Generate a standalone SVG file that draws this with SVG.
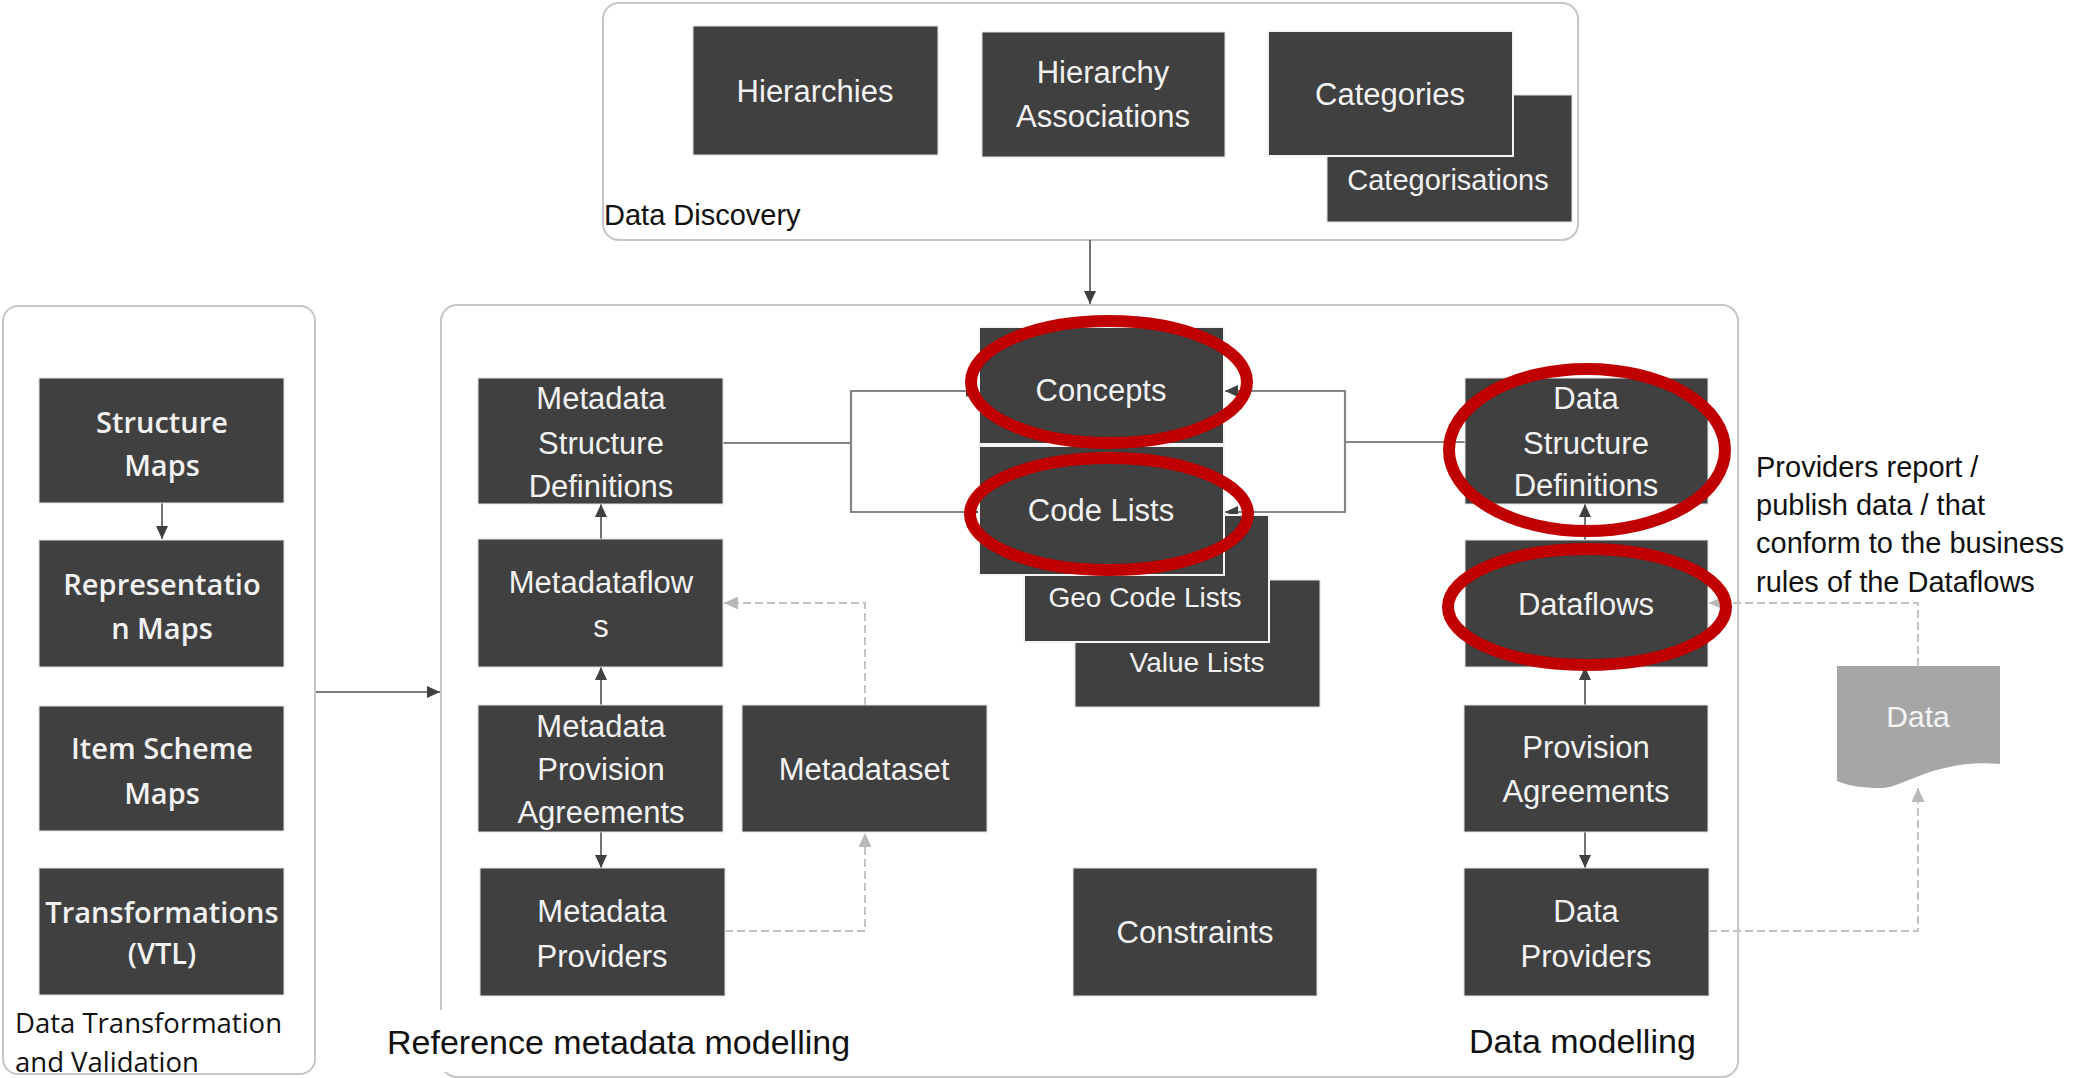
<svg xmlns="http://www.w3.org/2000/svg" width="2075" height="1078" viewBox="0 0 2075 1078">
<style>
.cont{fill:#fff;stroke:#c6c6c6;stroke-width:2}
.box{fill:#404040;stroke:#e2e2e2;stroke-width:1}
.ov{fill:#404040;stroke:#f4f4f4;stroke-width:2}
.t{font-family:"Liberation Sans",Arial,sans-serif;font-size:31px;fill:#f2f2f2;text-anchor:middle}
.ts{font-size:28px}
.tl{font-family:"Open Sans","Liberation Sans",sans-serif;font-weight:600;font-size:29px;fill:#f2f2f2;text-anchor:middle}
.lab{font-family:"Liberation Sans",Arial,sans-serif;fill:#111}
.ln{fill:none;stroke:#505050;stroke-width:1.6}
.br{fill:none;stroke:#858585;stroke-width:2.2}
.dl{fill:none;stroke:#c4c4c4;stroke-width:2;stroke-dasharray:8 4}
.red{fill:none;stroke:#c00000;stroke-width:12}
</style>
<defs>
<marker id="ah" markerWidth="13" markerHeight="12" refX="13" refY="6" orient="auto-start-reverse" markerUnits="userSpaceOnUse"><path d="M0,0 L13,6 L0,12 z" fill="#404040"/></marker>
<marker id="ahl" markerWidth="14" markerHeight="13" refX="14" refY="6.5" orient="auto" markerUnits="userSpaceOnUse"><path d="M0,0 L14,6.5 L0,13 z" fill="#b8b8b8"/></marker>
</defs>

<g id="containers">
<rect id="data-discovery" class="cont" x="603" y="3" width="975" height="237" rx="16"/>
<rect id="data-transformation" class="cont" x="3" y="306" width="312" height="768" rx="15"/>
<rect id="modelling" class="cont" x="441" y="305" width="1297" height="772" rx="16"/>
</g>

<g id="connectors">
<path class="ln" d="M1090,240 V304" marker-end="url(#ah)"/>
<path class="ln" d="M316,692 H440" marker-end="url(#ah)"/>
<path class="ln" d="M162,503 V539" marker-end="url(#ah)"/>
<path class="ln" d="M601,539 V504" marker-end="url(#ah)"/>
<path class="ln" d="M601,705 V667" marker-end="url(#ah)"/>
<path class="ln" d="M601,832 V868" marker-end="url(#ah)"/>
<path class="dl" d="M865,705 V603 H724" marker-end="url(#ahl)"/>
<path class="dl" d="M725,931 H865 V833" marker-end="url(#ahl)"/>
<path class="br" d="M723,443 H851"/>
<path class="br" d="M979,391 H851 V512 H979" marker-start="url(#ah)" marker-end="url(#ah)"/>
<path class="br" d="M1465,442 H1345"/>
<path class="br" d="M1225,391 H1345 V512 H1225" marker-start="url(#ah)" marker-end="url(#ah)"/>
<path class="ln" d="M1585,540 V504" marker-end="url(#ah)"/>
<path class="ln" d="M1585,705 V667" marker-end="url(#ah)"/>
<path class="ln" d="M1585,832 V868" marker-end="url(#ah)"/>
<path class="dl" d="M1918,666 V603 H1709" marker-end="url(#ahl)"/>
<path class="dl" d="M1709,931 H1918 V788" marker-end="url(#ahl)"/>
</g>

<g id="hierarchies"><rect class="box" x="693" y="26" width="245" height="129"/><text class="t" x="815" y="102">Hierarchies</text></g>
<g id="hierarchy-associations"><rect class="box" x="982" y="32" width="243" height="125"/><text class="t" x="1103" y="83">Hierarchy</text><text class="t" x="1103" y="127">Associations</text></g>
<g id="categorisations"><rect class="box" x="1327" y="95" width="245" height="127"/><text class="t" x="1448" y="190" style="font-size:29px">Categorisations</text></g>
<g id="categories"><rect class="ov" x="1268" y="31" width="245" height="125"/><text class="t" x="1390" y="105">Categories</text></g>

<g id="structure-maps"><rect class="box" x="39" y="378" width="245" height="125"/><text class="tl" x="162" y="433">Structure</text><text class="tl" x="162" y="476">Maps</text></g>
<g id="representation-maps"><rect class="box" x="39" y="540" width="245" height="127"/><text class="tl" x="162" y="595">Representatio</text><text class="tl" x="162" y="639">n Maps</text></g>
<g id="item-scheme-maps"><rect class="box" x="39" y="706" width="245" height="125"/><text class="tl" x="162" y="759">Item Scheme</text><text class="tl" x="162" y="804">Maps</text></g>
<g id="transformations"><rect class="box" x="39" y="868" width="245" height="127"/><text class="tl" x="162" y="923">Transformations</text><text class="tl" x="162" y="964">(VTL)</text></g>

<g id="msd"><rect class="box" x="478" y="378" width="245" height="126"/><text class="t" x="601" y="409">Metadata</text><text class="t" x="601" y="454">Structure</text><text class="t" x="601" y="497">Definitions</text></g>
<g id="metadataflows"><rect class="box" x="478" y="539" width="245" height="128"/><text class="t" x="601" y="593">Metadataflow</text><text class="t" x="601" y="637">s</text></g>
<g id="mpa"><rect class="box" x="478" y="705" width="245" height="127"/><text class="t" x="601" y="737">Metadata</text><text class="t" x="601" y="780">Provision</text><text class="t" x="601" y="823">Agreements</text></g>
<g id="metadataset"><rect class="box" x="742" y="705" width="245" height="127"/><text class="t" x="864" y="780">Metadataset</text></g>
<g id="metadata-providers"><rect class="box" x="480" y="868" width="245" height="128"/><text class="t" x="602" y="922">Metadata</text><text class="t" x="602" y="967">Providers</text></g>

<g id="value-lists"><rect class="box" x="1075" y="580" width="245" height="127"/><text class="t ts" x="1197" y="672">Value Lists</text></g>
<g id="geo-code-lists"><rect class="ov" x="1024" y="515" width="245" height="127"/><text class="t ts" x="1145" y="607">Geo Code Lists</text></g>
<g id="code-lists"><rect class="ov" x="979" y="446" width="245" height="129"/><text class="t" x="1101" y="521">Code Lists</text></g>
<g id="concepts"><rect class="ov" x="979" y="327" width="245" height="117"/><text class="t" x="1101" y="401">Concepts</text></g>
<g id="constraints"><rect class="box" x="1073" y="868" width="244" height="128"/><text class="t" x="1195" y="943">Constraints</text></g>

<g id="dsd"><rect class="box" x="1465" y="378" width="243" height="126"/><text class="t" x="1586" y="409">Data</text><text class="t" x="1586" y="454">Structure</text><text class="t" x="1586" y="496">Definitions</text></g>
<g id="dataflows"><rect class="box" x="1465" y="540" width="243" height="127"/><text class="t" x="1586" y="615">Dataflows</text></g>
<g id="provision-agreements"><rect class="box" x="1464" y="705" width="244" height="127"/><text class="t" x="1586" y="758">Provision</text><text class="t" x="1586" y="802">Agreements</text></g>
<g id="data-providers"><rect class="box" x="1464" y="868" width="245" height="128"/><text class="t" x="1586" y="922">Data</text><text class="t" x="1586" y="967">Providers</text></g>

<g id="data"><path d="M1837,666 H2000 V764 C1935,758 1900,790 1880,788 C1862,788 1850,786 1837,781 Z" fill="#a6a6a6"/><text class="t" x="1918" y="727" style="font-size:30px;fill:#f4f4f4">Data</text></g>

<g id="labels">
<text class="lab" x="604" y="225" style="font-size:29px">Data Discovery</text>
<text class="lab" x="15" y="1033" style="font-family:'Open Sans',sans-serif;font-size:27.5px">Data Transformation</text>
<text class="lab" x="15" y="1072" style="font-family:'Open Sans',sans-serif;font-size:27.5px">and Validation</text>
<rect x="378" y="1010" width="485" height="62" fill="#fff"/>
<text class="lab" x="387" y="1054" style="font-size:34px">Reference metadata modelling</text>
<text class="lab" x="1469" y="1053" style="font-size:34px">Data modelling</text>
<text class="lab" x="1756" y="477" style="font-size:29px">Providers report /</text>
<text class="lab" x="1756" y="515" style="font-size:29px">publish data / that</text>
<text class="lab" x="1756" y="553" style="font-size:29px">conform to the business</text>
<text class="lab" x="1756" y="592" style="font-size:29px">rules of the Dataflows</text>
</g>

<g id="highlights">
<ellipse class="red" cx="1109" cy="382" rx="138" ry="61"/>
<ellipse class="red" cx="1109" cy="514" rx="139" ry="56"/>
<ellipse class="red" cx="1587" cy="450" rx="138" ry="81"/>
<ellipse class="red" cx="1587" cy="607" rx="139" ry="58"/>
</g>
</svg>
